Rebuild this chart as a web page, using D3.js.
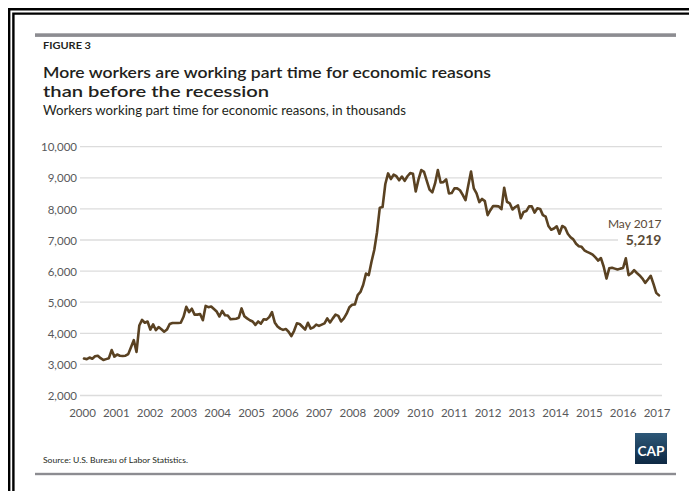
<!DOCTYPE html>
<html>
<head>
<meta charset="utf-8">
<script src="https://cdn.jsdelivr.net/npm/d3@7"></script>
<style>
  html, body { margin: 0; padding: 0; background: #fff; }
  svg { display: block; font-family: Lato, "Noto Sans", sans-serif; }
</style>
</head>
<body>
<svg id="chart" width="689" height="491"></svg>
<script>
// ---- Data (thousands of workers, monthly, Jan 2000 – May 2017) ----
const startYear = 2000;
const v2000 = [3190, 3170, 3220, 3180, 3260, 3280, 3200, 3140, 3170, 3200, 3460, 3250];
const v2001 = [3320, 3280, 3270, 3280, 3330, 3550, 3780, 3400, 4250, 4430, 4340, 4380];
const v2002 = [4120, 4290, 4100, 4200, 4130, 4050, 4120, 4300, 4330, 4330, 4330, 4340];
const v2003 = [4530, 4850, 4680, 4790, 4600, 4600, 4620, 4420, 4880, 4840, 4860, 4780];
const v2004 = [4700, 4540, 4720, 4580, 4570, 4450, 4460, 4470, 4500, 4800, 4550, 4480];
const v2005 = [4420, 4380, 4270, 4380, 4310, 4450, 4440, 4520, 4680, 4350, 4220, 4150];
const v2006 = [4110, 4140, 4050, 3910, 4080, 4320, 4300, 4210, 4120, 4340, 4150, 4190];
const v2007 = [4280, 4240, 4280, 4320, 4480, 4350, 4480, 4600, 4560, 4380, 4480, 4630];
const v2008 = [4840, 4920, 4930, 5230, 5330, 5560, 5920, 5870, 6300, 6680, 7250, 8040];
const v2009 = [8060, 8800, 9140, 8960, 9100, 9050, 8920, 9040, 8900, 9050, 9150, 9130];
const v2010 = [8560, 8950, 9250, 9190, 8900, 8620, 8530, 8820, 9250, 8850, 8860, 8950];
const v2011 = [8500, 8510, 8660, 8660, 8600, 8450, 8280, 8750, 9200, 8660, 8500, 8220];
const v2012 = [8320, 8250, 7800, 7960, 8090, 8090, 8080, 7990, 8680, 8230, 8180, 7980];
const v2013 = [8060, 8110, 7700, 7900, 7930, 8080, 8080, 7880, 8020, 8000, 7800, 7750];
const v2014 = [7450, 7330, 7370, 7440, 7200, 7450, 7400, 7200, 7090, 7020, 6880, 6800];
const v2015 = [6780, 6670, 6620, 6580, 6530, 6440, 6340, 6420, 6140, 5760, 6090, 6110];
const v2016 = [6080, 6050, 6080, 6100, 6410, 5870, 5930, 6030, 5940, 5860, 5760, 5620];
const v2017 = [5730, 5850, 5590, 5300, 5219];

const yearLabels = ["2000","2001","2002","2003","2004","2005","2006","2007","2008",
                    "2009","2010","2011","2012","2013","2014","2015","2016","2017"];
const yTicks = [2000, 3000, 4000, 5000, 6000, 7000, 8000, 9000, 10000];

const annotationLabel = "May 2017";
const annotationValue = "5,219";

const values = [].concat(v2000, v2001, v2002, v2003, v2004, v2005, v2006, v2007, v2008,
  v2009, v2010, v2011, v2012, v2013, v2014, v2015, v2016, v2017);

// ---- Drawing ----
const svg = d3.select("#chart");
const W = 689, H = 491;

const x = d3.scaleLinear().domain([0, values.length - 1]).range([84, 659]);
const xLab = d3.scalePoint().domain(yearLabels).range([82, 656.5]);
const y = d3.scaleLinear().domain([2000, 10000]).range([395.5, 146.7]);

function fit(sel, w) {
  const n = sel.node();
  if (n.getComputedTextLength() > 0) {
    sel.attr("textLength", w).attr("lengthAdjust", "spacingAndGlyphs");
  }
  return sel;
}

// frame (top and left double black lines)
svg.append("path").attr("d", `M9.2,${H + 5} V9.2 H${W + 5}`)
  .attr("fill", "none").attr("stroke", "#000").attr("stroke-width", 2.4);
svg.append("path").attr("d", `M13.4,${H + 5} V13.6 H${W + 5}`)
  .attr("fill", "none").attr("stroke", "#000").attr("stroke-width", 2.4);

// top & bottom grey rules
svg.append("rect").attr("x", 35).attr("y", 33.3).attr("width", 641).attr("height", 3.6).attr("fill", "#8c8c91");
svg.append("rect").attr("x", 35).attr("y", 472.8).attr("width", 641).attr("height", 2.4).attr("fill", "#8c8c91");

// headings
fit(svg.append("text").attr("x", 43).attr("y", 48.6).attr("font-size", 9).attr("font-weight", 700)
  .attr("fill", "#231f20").text("FIGURE 3"), 48);
fit(svg.append("text").attr("x", 43).attr("y", 77.6).attr("font-size", 16).attr("font-weight", 600)
  .attr("fill", "#231f20").text("More workers are working part time for economic reasons"), 448);
fit(svg.append("text").attr("x", 43).attr("y", 97.2).attr("font-size", 16).attr("font-weight", 600)
  .attr("fill", "#231f20").text("than before the recession"), 226);
fit(svg.append("text").attr("x", 43).attr("y", 115.4).attr("font-size", 12.5).attr("font-weight", 400)
  .attr("fill", "#231f20").text("Workers working part time for economic reasons, in thousands"), 363);

// gridlines
const grid = svg.append("g");
grid.selectAll("line").data(yTicks).join("line")
  .attr("x1", 80).attr("x2", 662)
  .attr("y1", d => y(d)).attr("y2", d => y(d))
  .attr("stroke", "#dcdcdc").attr("stroke-width", 1.3);

// y axis labels
const yAxis = d3.axisLeft(y).tickValues(yTicks).tickFormat(d3.format(",")).tickSize(0).tickPadding(0);
const gy = svg.append("g").attr("transform", "translate(77,0)").call(yAxis);
gy.select(".domain").remove();
gy.selectAll("text").attr("font-size", 11.5).attr("fill", "#58595b")
  .attr("font-family", "Lato, 'Noto Sans', sans-serif").attr("dy", "0.36em");

// x axis labels
const xAxis = d3.axisBottom(xLab).tickSize(0).tickPadding(0);
const gx = svg.append("g").attr("transform", "translate(0,409)").call(xAxis);
gx.select(".domain").remove();
gx.selectAll("text").attr("font-size", 11.5).attr("fill", "#58595b")
  .attr("font-family", "Lato, 'Noto Sans', sans-serif").attr("dy", "0.71em");

// white box behind annotation
svg.append("rect").attr("x", 618).attr("y", 217).attr("width", 46).attr("height", 30).attr("fill", "#fff");

// line
const line = d3.line().x((d, i) => x(i)).y(d => y(d)).curve(d3.curveLinear);
svg.append("path").datum(values).attr("d", line)
  .attr("fill", "none").attr("stroke", "#5a4222").attr("stroke-width", 2.6)
  .attr("stroke-linejoin", "round").attr("stroke-linecap", "round");

// annotation
svg.append("text").attr("x", 661.5).attr("y", 227.8).attr("text-anchor", "end")
  .attr("font-size", 12).attr("fill", "#5a4a36").text(annotationLabel);
svg.append("text").attr("x", 661.5).attr("y", 244.6).attr("text-anchor", "end")
  .attr("font-size", 14).attr("font-weight", 700).attr("fill", "#5a4a36").text(annotationValue);

// source
fit(svg.append("text").attr("x", 43).attr("y", 463.2).attr("font-size", 8)
  .attr("fill", "#231f20").text("Source: U.S. Bureau of Labor Statistics."), 145);

// CAP logo
const defs = svg.append("defs");
const grad = defs.append("linearGradient").attr("id", "capg").attr("x1", 0).attr("y1", 0).attr("x2", 0).attr("y2", 1);
grad.append("stop").attr("offset", "0%").attr("stop-color", "#2d5878");
grad.append("stop").attr("offset", "100%").attr("stop-color", "#0e2843");
svg.append("rect").attr("x", 635).attr("y", 433).attr("width", 32).attr("height", 31).attr("fill", "url(#capg)");
fit(svg.append("text").attr("x", 637.5).attr("y", 455.5).attr("font-size", 13).attr("font-weight", 700)
  .attr("fill", "#fff").text("CAP"), 27);
</script>
</body>
</html>
